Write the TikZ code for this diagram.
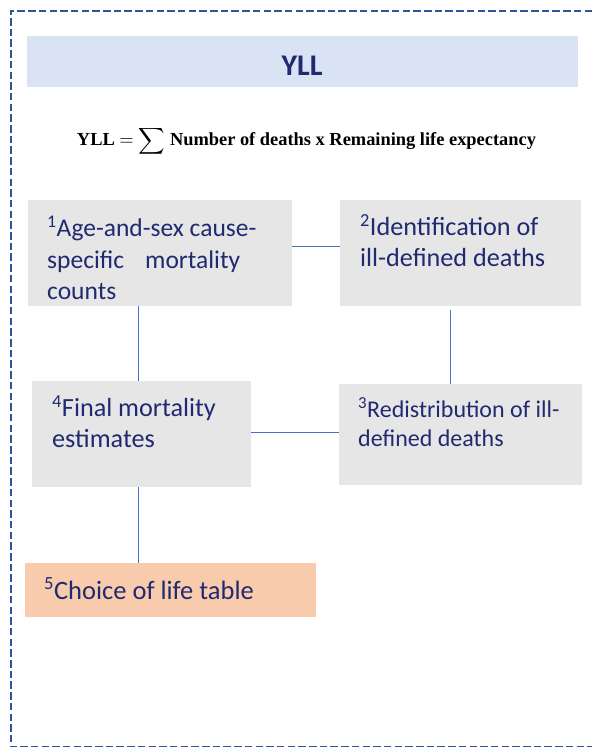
\documentclass[tikz,border=0pt]{standalone}
\usepackage{fontspec}
\setmainfont{Carlito}
\usepackage{graphicx}
\definecolor{txtnavy}{RGB}{31,42,112}
\definecolor{framecol}{RGB}{47,85,151}
\definecolor{linecol}{RGB}{68,114,196}
\definecolor{bannerfill}{RGB}{218,227,243}
\definecolor{boxgray}{RGB}{231,230,230}
\definecolor{boxpeach}{RGB}{248,203,173}
\tikzset{
  stepbox/.style={fill=boxgray, draw=none, anchor=north west, inner sep=0pt},
  peachbox/.style={fill=boxpeach, draw=none, anchor=north west, inner sep=0pt},
  boxtext/.style={anchor=base west, inner sep=0pt, align=left, text=txtnavy,
    font=\fontsize{26.2}{31.4}\selectfont},
  smalltext/.style={anchor=base west, inner sep=0pt, align=left, text=txtnavy,
    font=\fontsize{24}{28.8}\selectfont},
  link/.style={draw=linecol, line width=1pt},
}
\begin{document}
\begin{tikzpicture}[x=1pt,y=-1pt]
\useasboundingbox (0,0) rectangle (592,747);
\begin{scope}
\clip (0,0) rectangle (592,747);
\draw[framecol, line width=2pt, dash pattern=on 7.5pt off 3.2pt] (592,10.5) -- (11,10.5) -- (11,747.2) -- (592,747.2);
\end{scope}
% banner
\node[fill=bannerfill, anchor=north west, inner sep=0pt, minimum width=551pt, minimum height=51pt] (banner) at (27,36) {};
\node[anchor=base, inner sep=0pt, text=txtnavy, font=\fontsize{30}{36}\selectfont\bfseries] (title) at (302,75.5) {YLL};
% formula
\node[anchor=center, inner sep=0pt] (formula) at (306.5,141) {\resizebox{459pt}{!}{\fontspec{Liberation Serif}\bfseries YLL $=\displaystyle\sum$ Number of deaths x Remaining life expectancy}};
% boxes
\node[stepbox, minimum width=264pt, minimum height=106pt] (b1) at (28,200) {};
\node[stepbox, minimum width=241pt, minimum height=106pt] (b2) at (340,200) {};
\node[stepbox, minimum width=243pt, minimum height=101pt] (b3) at (339,384) {};
\node[stepbox, minimum width=219pt, minimum height=106pt] (b4) at (32,381) {};
\node[peachbox, minimum width=291pt, minimum height=54pt] (b5) at (25,563) {};
% texts
\node[boxtext, font=\fontsize{25.5}{31.3}\selectfont] (t1) at (47,299.5) {\textsuperscript{1}Age-and-sex cause-\\specific\hspace{21pt}mortality\\counts};
\node[boxtext] (t2) at (360,266.5) {\textsuperscript{2}Identification of\\ill-defined deaths};
\node[smalltext] (t3) at (358,446) {\textsuperscript{3}Redistribution of ill-\\defined deaths};
\node[boxtext, font=\fontsize{26.2}{30.6}\selectfont] (t4) at (52,447.5) {\textsuperscript{4}Final mortality\\estimates};
\node[boxtext, font=\fontsize{26.5}{31.4}\selectfont] (t5) at (44,599) {\textsuperscript{5}Choice of life table};
% connectors
\draw[link] ([yshift=7pt]b1.east) -- ([yshift=7pt]b1.east -| b2.west);
\draw[link] ([xshift=-3.5pt]b4.north |- b1.south) -- ([xshift=-3.5pt]b4.north);
\draw[link] ([xshift=-10.5pt,yshift=-4pt]b2.south) -- ([xshift=-10.5pt]b3.north);
\draw[link] ([yshift=2pt]b4.east) -- ([yshift=2pt]b4.east -| b3.west);
\draw[link] ([xshift=-3.5pt]b4.south) -- ([xshift=-3.5pt]b4.south |- b5.north);
\end{tikzpicture}
\end{document}
